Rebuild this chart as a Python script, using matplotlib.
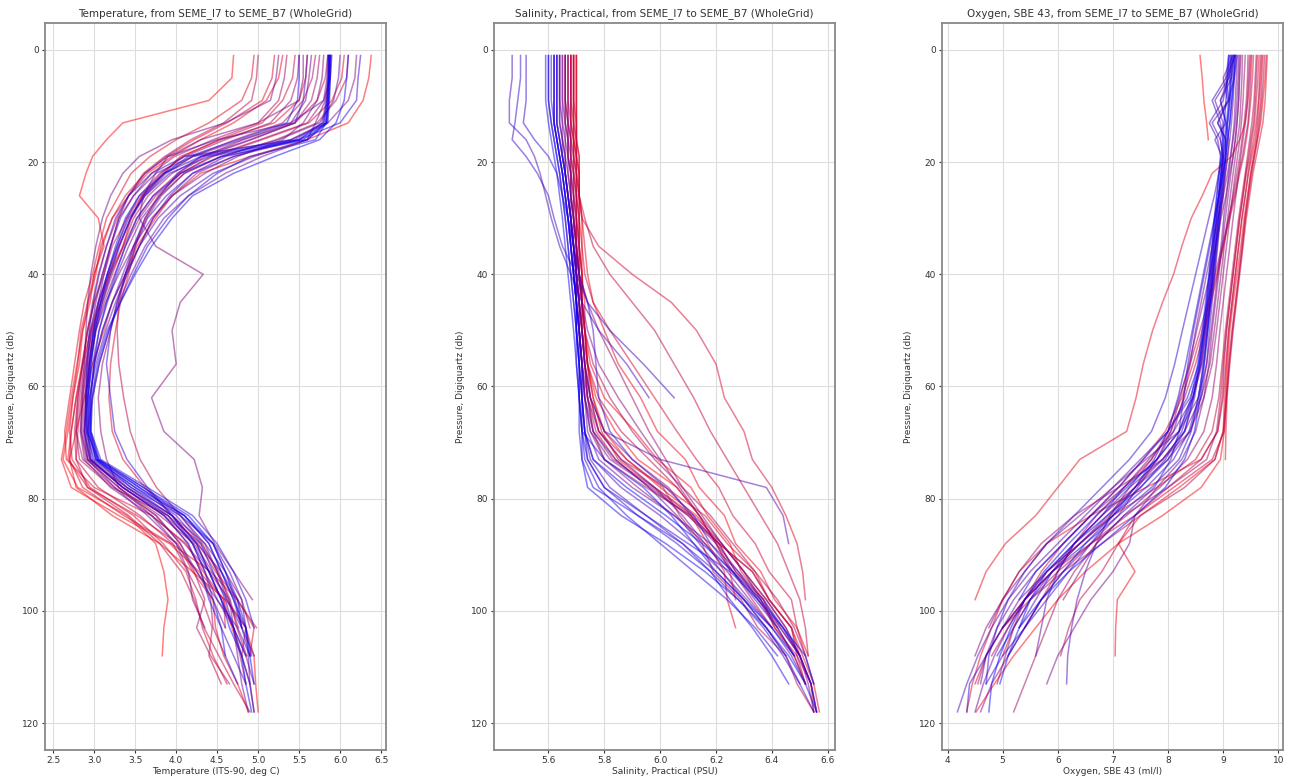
import matplotlib
matplotlib.use("Agg")
import matplotlib.pyplot as plt

# Pressure levels (db) shared by all casts; a cast with fewer values stops shallower
PRESSURE_LEVELS = [1, 5, 9, 13, 16, 19, 22, 26, 30, 35, 40, 45, 50, 56, 62, 68,
                   73, 78, 83, 88, 93, 98, 103, 108, 113, 118]

# Temperature (ITS-90, deg C), casts ordered from SEME_I7 to SEME_B7
TEMP_PROFILES = [
    [4.70, 4.68, 4.40, 3.35, 3.15, 2.98, 2.90, 2.82, 3.05, 3.12, 3.00, 2.95, 2.86, 2.82, 2.74, 2.68, 2.62, 2.80, 3.40, 3.75, 3.85, 3.90, 3.85, 3.83],
    [6.38, 6.35, 6.28, 6.10, 5.60, 4.90, 4.30, 3.95, 3.75, 3.52, 3.38, 3.22, 3.12, 2.98, 2.88, 2.78, 2.70, 2.78, 3.22, 3.80, 4.20, 4.60, 4.85, 4.95, 4.97, 5.00],
    [5.30, 5.25, 5.10, 4.70, 4.30, 3.95, 3.65, 3.42, 3.22, 3.08, 3.02, 2.93, 2.86, 2.79, 2.72, 2.66, 2.60, 2.72, 3.30, 3.92, 4.28, 4.58, 4.68, 4.80],
    [5.60, 5.58, 5.50, 5.20, 4.55, 4.05, 3.85, 3.58, 3.45, 3.35, 3.18, 3.08, 2.96, 2.86, 2.78, 2.72, 2.68, 2.92, 3.52, 4.02, 4.20, 4.45, 4.48, 4.58, 4.75, 4.88],
    [4.95, 4.92, 4.80, 4.40, 4.00, 3.68, 3.45, 3.30, 3.15, 3.06, 2.98, 2.88, 2.82, 2.76, 2.70, 2.64, 2.66, 3.00, 3.70, 4.12, 4.33, 4.58, 4.60],
    [6.05, 6.02, 5.90, 5.62, 5.05, 4.45, 4.05, 3.78, 3.62, 3.50, 3.42, 3.32, 3.26, 3.20, 3.18, 3.22, 3.35, 3.62, 3.95, 4.27, 4.48, 4.75, 4.95, 4.90],
    [5.20, 5.17, 5.05, 4.62, 4.22, 3.88, 3.62, 3.38, 3.22, 3.10, 3.00, 2.92, 2.84, 2.80, 2.74, 2.70, 2.73, 2.95, 3.48, 3.84, 4.12, 4.24, 4.32, 4.45, 4.62],
    [5.45, 5.42, 5.30, 5.05, 4.52, 4.08, 3.82, 3.58, 3.40, 3.22, 3.12, 3.00, 2.92, 2.85, 2.78, 2.72, 2.70, 2.86, 3.36, 3.94, 4.42, 4.74, 4.98],
    [5.85, 5.82, 5.72, 5.45, 4.92, 4.35, 4.02, 3.72, 3.52, 3.36, 3.20, 3.08, 2.98, 2.90, 2.84, 2.80, 2.78, 2.92, 3.42, 3.80, 4.06, 4.22, 4.34, 4.52, 4.70, 4.90],
    [5.00, 4.98, 4.92, 4.58, 4.18, 3.86, 3.60, 3.42, 3.28, 3.15, 3.05, 2.98, 2.92, 2.86, 2.80, 2.76, 2.78, 3.05, 3.56, 3.96, 4.14, 4.32, 4.44, 4.40, 4.55],
    [6.10, 6.08, 5.95, 5.72, 5.22, 4.55, 4.10, 3.82, 3.64, 3.48, 3.38, 3.30, 3.28, 3.30, 3.36, 3.44, 3.56, 3.76, 4.05, 4.32, 4.50, 4.66, 4.74, 4.86],
    [5.70, 5.66, 5.55, 5.30, 4.72, 4.20, 3.86, 3.60, 3.45, 3.30, 3.18, 3.05, 2.95, 2.88, 2.82, 2.78, 2.82, 3.22, 3.90, 4.30, 4.52, 4.64, 4.76],
    [5.35, 5.32, 5.25, 5.00, 4.45, 3.98, 3.70, 3.48, 3.30, 3.20, 3.10, 3.00, 2.92, 2.86, 2.80, 2.78, 2.86, 3.25, 3.76, 4.05, 4.22, 4.35, 4.25, 4.42, 4.65],
    [5.75, 5.72, 5.65, 5.45, 4.82, 4.32, 3.95, 3.66, 3.48, 3.35, 3.22, 3.10, 3.00, 2.92, 2.86, 2.84, 2.90, 3.30, 3.80, 4.22, 4.44, 4.62, 4.85, 4.80, 4.90, 4.95],
    [5.90, 5.88, 5.80, 5.60, 5.02, 4.42, 4.06, 3.75, 3.55, 3.38, 3.25, 3.12, 3.02, 2.95, 2.90, 2.88, 2.95, 3.35, 3.86, 4.14, 4.30, 4.42, 4.45, 4.60],
    [5.50, 5.48, 5.40, 5.15, 4.60, 4.10, 3.80, 3.55, 3.40, 3.28, 3.16, 3.05, 2.97, 2.90, 2.86, 2.84, 2.92, 3.40, 3.95, 4.35, 4.60, 4.80, 4.90],
    [6.20, 6.18, 6.10, 5.85, 5.40, 4.70, 4.25, 3.95, 3.72, 3.55, 3.40, 3.28, 3.20, 3.10, 3.05, 3.08, 3.15, 3.30, 3.70, 4.10, 4.40, 4.65, 4.70, 4.78, 4.85],
    [5.55, 5.55, 5.50, 5.00, 4.30, 3.90, 3.75, 3.60, 3.55, 3.75, 4.33, 4.05, 3.95, 4.00, 3.70, 3.85, 4.22, 4.32, 4.28, 4.47, 4.70, 4.93],
    [5.80, 5.78, 5.72, 5.55, 5.30, 4.75, 4.35, 3.95, 3.70, 3.48, 3.30, 3.14, 3.02, 2.94, 2.88, 2.86, 2.92, 3.30, 3.75, 4.05, 4.25, 4.50, 4.70, 4.85, 4.95],
    [5.25, 5.22, 5.15, 4.60, 3.95, 3.55, 3.35, 3.20, 3.10, 3.02, 2.96, 2.92, 2.90, 2.88, 2.85, 2.83, 2.88, 3.20, 3.70, 4.00, 4.15, 4.20, 4.35],
    [5.65, 5.62, 5.58, 5.40, 4.80, 4.20, 3.88, 3.62, 3.45, 3.30, 3.18, 3.08, 3.00, 2.94, 2.90, 2.88, 2.95, 3.35, 3.85, 4.25, 4.55, 4.75, 4.80, 4.95],
    [5.88, 5.86, 5.82, 5.70, 5.60, 5.05, 4.60, 4.15, 3.85, 3.62, 3.45, 3.30, 3.18, 3.06, 2.98, 2.92, 2.96, 3.40, 3.95, 4.25, 4.40, 4.55, 4.70, 4.75, 4.80, 4.88],
    [6.00, 5.98, 5.92, 5.75, 5.25, 4.55, 4.10, 3.80, 3.58, 3.42, 3.28, 3.16, 3.06, 2.98, 2.92, 2.88, 2.92, 3.25, 3.65, 4.00, 4.25, 4.45, 4.60],
    [5.85, 5.84, 5.80, 5.40, 4.50, 3.90, 3.62, 3.42, 3.30, 3.20, 3.12, 3.05, 2.99, 2.94, 2.90, 2.88, 2.94, 3.35, 3.90, 4.20, 4.35, 4.50, 4.75, 4.90],
    [5.86, 5.85, 5.83, 5.78, 5.50, 4.60, 4.20, 3.92, 3.72, 3.55, 3.40, 3.26, 3.14, 3.02, 2.94, 2.92, 2.98, 3.45, 4.05, 4.45, 4.65, 4.80, 4.85, 4.88, 4.90],
    [5.87, 5.86, 5.84, 5.80, 5.40, 4.20, 3.75, 3.48, 3.32, 3.20, 3.10, 3.02, 2.96, 2.92, 2.90, 2.91, 3.05, 3.60, 4.10, 4.40, 4.55, 4.70, 4.80],
    [5.60, 5.58, 5.55, 5.45, 4.90, 4.30, 4.02, 3.80, 3.62, 3.48, 3.35, 3.22, 3.10, 3.00, 2.95, 2.94, 3.02, 3.40, 3.90, 4.20, 4.35, 4.45, 4.55, 4.70, 4.85],
    [5.88, 5.87, 5.85, 5.82, 5.60, 4.95, 4.45, 4.05, 3.78, 3.55, 3.38, 3.22, 3.10, 3.00, 2.95, 2.95, 3.05, 3.55, 4.05, 4.35, 4.50, 4.62, 4.80, 4.90],
    [6.25, 6.22, 6.20, 6.00, 5.50, 4.70, 4.20, 3.88, 3.65, 3.50, 3.38, 3.28, 3.20, 3.15, 3.20, 3.25, 3.40, 3.65, 3.95, 4.20, 4.40, 4.55, 4.70, 4.80, 4.90, 4.95],
    [5.86, 5.86, 5.84, 5.80, 5.45, 4.10, 3.70, 3.42, 3.26, 3.15, 3.06, 2.99, 2.94, 2.91, 2.90, 2.90, 3.00, 3.50, 4.10, 4.45, 4.60, 4.75, 4.85, 4.92],
    [5.89, 5.88, 5.86, 5.83, 5.70, 4.90, 4.50, 4.15, 3.90, 3.65, 3.48, 3.32, 3.18, 3.06, 2.98, 2.96, 3.08, 3.65, 4.20, 4.50, 4.70, 4.85, 4.95],
    [5.50, 5.50, 5.48, 5.35, 4.75, 4.15, 3.85, 3.60, 3.44, 3.31, 3.20, 3.10, 3.02, 2.96, 2.92, 2.90, 2.96, 3.35, 3.85, 4.15, 4.30, 4.40, 4.55, 4.60, 4.75],
    [5.87, 5.87, 5.86, 5.84, 5.55, 4.40, 3.92, 3.62, 3.42, 3.28, 3.16, 3.06, 2.99, 2.94, 2.92, 2.92, 3.02, 3.50, 4.00, 4.30, 4.45, 4.60, 4.70, 4.85],
    [6.10, 6.08, 6.05, 5.95, 5.75, 5.20, 4.70, 4.20, 3.95, 3.70, 3.50, 3.32, 3.16, 3.04, 2.97, 2.95, 3.04, 3.45, 3.95, 4.25, 4.40, 4.55, 4.65, 4.80, 4.85, 4.92],
    [5.88, 5.88, 5.87, 5.85, 5.60, 4.55, 4.05, 3.72, 3.52, 3.38, 3.26, 3.15, 3.06, 3.00, 2.96, 2.96, 3.06, 3.60, 4.15, 4.45, 4.60, 4.72, 4.80],
    [5.86, 5.86, 5.85, 5.83, 5.50, 4.30, 3.85, 3.55, 3.38, 3.26, 3.16, 3.08, 3.01, 2.96, 2.93, 2.93, 3.03, 3.55, 4.10, 4.40, 4.55, 4.70, 4.85, 4.90, 4.95],
]

# Salinity, Practical (PSU)
SAL_PROFILES = [
    [5.69, 5.69, 5.69, 5.69, 5.69, 5.70, 5.70, 5.70, 5.71, 5.71, 5.72, 5.72, 5.73, 5.74, 5.77, 5.84, 5.92, 6.06, 6.14, 6.20, 6.25, 6.27],
    [5.70, 5.70, 5.70, 5.70, 5.70, 5.70, 5.71, 5.71, 5.71, 5.72, 5.72, 5.73, 5.73, 5.74, 5.76, 5.80, 5.88, 6.00, 6.13, 6.21, 6.33, 6.39, 6.47, 6.50, 6.54, 6.55],
    [5.68, 5.68, 5.68, 5.68, 5.69, 5.69, 5.69, 5.70, 5.70, 5.70, 5.71, 5.72, 5.73, 5.75, 5.80, 5.91, 5.99, 6.11, 6.17, 6.25, 6.29, 6.37, 6.41, 6.48, 6.52],
    [5.70, 5.70, 5.70, 5.70, 5.70, 5.71, 5.71, 5.71, 5.72, 5.73, 5.74, 5.76, 5.80, 5.85, 5.93, 5.99, 6.09, 6.14, 6.23, 6.27, 6.36, 6.41, 6.49, 6.53],
    [5.69, 5.69, 5.69, 5.69, 5.69, 5.70, 5.70, 5.71, 5.71, 5.71, 5.72, 5.72, 5.73, 5.74, 5.76, 5.79, 5.85, 5.98, 6.11, 6.17, 6.23, 6.24, 6.27],
    [5.68, 5.68, 5.68, 5.69, 5.69, 5.69, 5.70, 5.70, 5.70, 5.71, 5.71, 5.72, 5.72, 5.73, 5.75, 5.78, 5.86, 6.02, 6.16, 6.24, 6.34, 6.39, 6.47, 6.51, 6.55, 6.57],
    [5.69, 5.69, 5.69, 5.70, 5.70, 5.70, 5.71, 5.71, 5.72, 5.78, 5.90, 6.04, 6.13, 6.20, 6.23, 6.30, 6.33, 6.40, 6.45, 6.49, 6.51, 6.52],
    [5.70, 5.70, 5.70, 5.70, 5.70, 5.71, 5.71, 5.71, 5.72, 5.72, 5.73, 5.76, 5.82, 5.90, 5.98, 6.06, 6.13, 6.21, 6.26, 6.34, 6.39, 6.47, 6.49, 6.52],
    [5.67, 5.67, 5.67, 5.68, 5.68, 5.68, 5.69, 5.69, 5.70, 5.70, 5.71, 5.71, 5.72, 5.73, 5.74, 5.77, 5.84, 5.96, 6.10, 6.21, 6.27, 6.36, 6.41, 6.49, 6.52],
    [5.68, 5.68, 5.68, 5.68, 5.69, 5.69, 5.70, 5.71, 5.73, 5.76, 5.82, 5.90, 5.98, 6.05, 6.12, 6.18, 6.24, 6.30, 6.36, 6.42, 6.46, 6.50, 6.52, 6.53],
    [5.69, 5.69, 5.69, 5.69, 5.70, 5.70, 5.70, 5.70, 5.71, 5.71, 5.72, 5.72, 5.73, 5.74, 5.75, 5.78, 5.88, 6.01, 6.07, 6.15, 6.19, 6.29, 6.35, 6.45, 6.49, 6.55],
    [5.66, 5.66, 5.66, 5.67, 5.67, 5.68, 5.68, 5.69, 5.69, 5.70, 5.70, 5.71, 5.72, 5.74, 5.78, 5.86, 5.96, 6.06, 6.14, 6.20, 6.26, 6.33, 6.40],
    [5.67, 5.67, 5.67, 5.67, 5.68, 5.68, 5.69, 5.69, 5.70, 5.70, 5.71, 5.72, 5.73, 5.76, 5.82, 5.90, 5.98, 6.08, 6.18, 6.26, 6.34, 6.42, 6.48, 6.52, 6.55],
    [5.68, 5.68, 5.68, 5.68, 5.68, 5.69, 5.69, 5.70, 5.70, 5.71, 5.71, 5.72, 5.72, 5.73, 5.74, 5.76, 5.80, 5.95, 6.11, 6.21, 6.33, 6.39, 6.47, 6.49, 6.54, 6.56],
    [5.66, 5.66, 5.66, 5.67, 5.67, 5.67, 5.68, 5.68, 5.69, 5.70, 5.71, 5.74, 5.78, 5.84, 5.90, 5.96, 6.02, 6.08, 6.15, 6.22, 6.30, 6.38, 6.45, 6.50],
    [5.67, 5.67, 5.67, 5.67, 5.68, 5.68, 5.68, 5.69, 5.69, 5.70, 5.70, 5.71, 5.72, 5.73, 5.74, 5.76, 5.83, 5.98, 6.12, 6.22, 6.30, 6.36, 6.42],
    [5.66, 5.66, 5.66, 5.66, 5.67, 5.67, 5.68, 5.68, 5.69, 5.70, 5.70, 5.71, 5.72, 5.73, 5.75, 5.80, 5.90, 6.03, 6.11, 6.21, 6.27, 6.37, 6.43, 6.50, 6.54],
    [5.65, 5.65, 5.65, 5.66, 5.66, 5.67, 5.67, 5.68, 5.69, 5.70, 5.71, 5.72, 5.74, 5.78, 5.85, 5.93, 6.00, 6.07, 6.14, 6.22, 6.30, 6.38, 6.45, 6.50, 6.53, 6.55],
    [5.66, 5.66, 5.66, 5.66, 5.67, 5.67, 5.68, 5.68, 5.69, 5.69, 5.70, 5.71, 5.71, 5.72, 5.73, 5.75, 5.80, 5.92, 6.05, 6.16, 6.26, 6.35, 6.43, 6.50],
    [5.64, 5.64, 5.64, 5.65, 5.65, 5.66, 5.66, 5.67, 5.68, 5.69, 5.70, 5.70, 5.71, 5.72, 5.73, 5.75, 5.82, 5.97, 6.10, 6.20, 6.28, 6.35, 6.42, 6.48, 6.52],
    [5.65, 5.65, 5.65, 5.65, 5.66, 5.66, 5.67, 5.68, 5.68, 5.69, 5.70, 5.71, 5.71, 5.72, 5.74, 5.78, 5.86, 5.98, 6.08, 6.16, 6.24, 6.32, 6.40],
    [5.64, 5.64, 5.64, 5.64, 5.65, 5.66, 5.66, 5.67, 5.68, 5.69, 5.70, 5.70, 5.71, 5.72, 5.73, 5.74, 5.78, 5.90, 6.05, 6.18, 6.28, 6.37, 6.44, 6.50, 6.54, 6.56],
    [5.63, 5.63, 5.63, 5.63, 5.64, 5.65, 5.66, 5.67, 5.68, 5.68, 5.69, 5.70, 5.71, 5.72, 5.73, 5.76, 5.84, 5.96, 6.06, 6.14, 6.22, 6.30, 6.38, 6.45],
    [5.64, 5.64, 5.64, 5.64, 5.65, 5.65, 5.66, 5.67, 5.68, 5.69, 5.70, 5.71, 5.72, 5.73, 5.75, 5.80, 6.00, 6.38, 6.44, 6.46],
    [5.62, 5.62, 5.62, 5.62, 5.63, 5.64, 5.65, 5.66, 5.67, 5.68, 5.69, 5.70, 5.71, 5.71, 5.72, 5.73, 5.76, 5.86, 6.00, 6.12, 6.22, 6.31, 6.40, 6.47, 6.52],
    [5.63, 5.63, 5.63, 5.63, 5.64, 5.65, 5.66, 5.67, 5.68, 5.69, 5.70, 5.70, 5.71, 5.72, 5.72, 5.73, 5.75, 5.82, 5.95, 6.08, 6.20, 6.30, 6.38, 6.45, 6.50, 6.55],
    [5.47, 5.47, 5.46, 5.46, 5.52, 5.55, 5.57, 5.59, 5.61, 5.64, 5.68, 5.72, 5.78, 5.88, 5.96],
    [5.50, 5.50, 5.49, 5.48, 5.47, 5.52, 5.56, 5.60, 5.62, 5.65, 5.70, 5.74, 5.82, 5.94, 6.05],
    [5.52, 5.52, 5.52, 5.51, 5.55, 5.60, 5.63, 5.65, 5.67, 5.69, 5.71, 5.74, 5.76, 5.77, 5.78, 5.82, 5.90, 6.02, 6.12, 6.18, 6.26, 6.34, 6.42, 6.48],
    [5.60, 5.60, 5.60, 5.61, 5.62, 5.63, 5.64, 5.65, 5.66, 5.67, 5.68, 5.69, 5.70, 5.71, 5.72, 5.72, 5.74, 5.80, 5.92, 6.06, 6.18, 6.28, 6.37, 6.44, 6.50],
    [5.61, 5.61, 5.61, 5.62, 5.63, 5.64, 5.65, 5.66, 5.67, 5.68, 5.69, 5.70, 5.70, 5.71, 5.71, 5.72, 5.73, 5.78, 5.88, 6.00, 6.12, 6.24, 6.34, 6.42],
    [5.62, 5.62, 5.62, 5.62, 5.63, 5.64, 5.65, 5.66, 5.67, 5.68, 5.69, 5.70, 5.71, 5.72, 5.72, 5.73, 5.74, 5.80, 5.95, 6.10, 6.25, 6.35, 6.44, 6.50, 6.54, 6.56],
    [5.60, 5.60, 5.60, 5.61, 5.62, 5.63, 5.64, 5.65, 5.66, 5.67, 5.68, 5.69, 5.70, 5.70, 5.71, 5.71, 5.72, 5.76, 5.92, 6.08, 6.18, 6.25, 6.33, 6.40, 6.46],
    [5.63, 5.63, 5.63, 5.63, 5.64, 5.65, 5.66, 5.67, 5.68, 5.69, 5.69, 5.70, 5.70, 5.71, 5.71, 5.72, 5.72, 5.74, 5.86, 6.02, 6.16, 6.28, 6.38, 6.46, 6.52, 6.56],
    [5.59, 5.59, 5.59, 5.60, 5.61, 5.62, 5.63, 5.64, 5.65, 5.66, 5.67, 5.68, 5.69, 5.70, 5.71, 5.72, 5.80, 5.94, 6.04, 6.12, 6.20, 6.30, 6.40, 6.48],
    [5.62, 5.62, 5.62, 5.62, 5.63, 5.64, 5.65, 5.66, 5.67, 5.68, 5.69, 5.70, 5.70, 5.71, 5.72, 5.73, 5.76, 5.88, 6.02, 6.15, 6.26, 6.36, 6.44, 6.52, 6.55],
]

# Oxygen, SBE 43 (ml/l)
OXY_PROFILES = [
    [8.58, 8.62, 8.65, 8.70, 8.73],
    [9.78, 9.76, 9.72, 9.68, 9.62, 9.56, 9.50, 9.44, 9.38, 9.32, 9.25, 9.18, 9.12, 9.08, 9.05, 9.02, 8.95, 8.60, 7.90, 7.10, 6.50, 6.00, 5.60, 5.20, 4.85, 4.52],
    [9.70, 9.68, 9.65, 9.62, 9.58, 9.52, 9.46, 9.40, 9.34, 9.28, 9.22, 9.16, 9.10, 9.06, 9.03, 9.00, 8.85, 8.20, 7.50, 7.10, 7.40, 7.08, 7.05, 7.04],
    [9.50, 9.48, 9.45, 9.40, 9.30, 9.15, 8.80, 8.62, 8.42, 8.25, 8.10, 7.90, 7.72, 7.55, 7.42, 7.25, 6.40, 6.00, 5.60, 5.05, 4.70, 4.50],
    [9.65, 9.63, 9.60, 9.57, 9.52, 9.48, 9.42, 9.36, 9.30, 9.24, 9.18, 9.12, 9.06, 9.02, 8.98, 8.90, 8.60, 7.60, 6.60, 5.80, 5.30, 5.00, 4.80, 4.60, 4.45, 4.35],
    [9.80, 9.78, 9.76, 9.72, 9.66, 9.60, 9.54, 9.48, 9.42, 9.36, 9.30, 9.24, 9.18, 9.12, 9.07, 9.05, 9.04],
    [9.55, 9.53, 9.50, 9.46, 9.42, 9.37, 9.30, 9.22, 9.12, 9.00, 8.88, 8.75, 8.62, 8.45, 8.25, 7.95, 7.55, 7.10, 6.60, 6.10, 5.70, 5.40, 5.20, 5.00],
    [9.72, 9.70, 9.68, 9.64, 9.60, 9.55, 9.50, 9.45, 9.40, 9.34, 9.28, 9.22, 9.16, 9.10, 9.06, 9.02, 8.80, 8.10, 7.40, 6.60, 5.90, 5.40, 5.00],
    [9.60, 9.58, 9.56, 9.52, 9.48, 9.44, 9.40, 9.34, 9.28, 9.22, 9.16, 9.10, 9.04, 8.98, 8.92, 8.80, 8.50, 7.80, 7.00, 6.40, 5.90, 5.40, 5.00, 4.70, 4.50],
    [9.68, 9.66, 9.64, 9.60, 9.55, 9.50, 9.45, 9.40, 9.34, 9.28, 9.22, 9.16, 9.10, 9.05, 9.00, 8.90, 8.60, 8.00, 7.40, 7.10, 6.80, 6.40, 6.20, 6.05],
    [9.45, 9.44, 9.42, 9.38, 9.34, 9.30, 9.25, 9.18, 9.10, 9.00, 8.90, 8.78, 8.66, 8.50, 8.30, 8.05, 7.70, 7.20, 6.70, 6.30, 6.00, 5.70, 5.40],
    [9.75, 9.73, 9.70, 9.66, 9.62, 9.57, 9.52, 9.46, 9.40, 9.35, 9.29, 9.23, 9.17, 9.11, 9.06, 9.00, 8.85, 8.30, 7.50, 6.80, 6.10, 5.50, 5.00, 4.70, 4.55],
    [9.52, 9.50, 9.48, 9.45, 9.40, 9.35, 9.28, 9.20, 9.10, 8.98, 8.85, 8.72, 8.58, 8.40, 8.20, 8.00, 7.70, 7.30, 6.95, 6.40, 5.80, 5.40, 5.10, 4.80],
    [9.62, 9.60, 9.58, 9.55, 9.50, 9.46, 9.41, 9.36, 9.30, 9.24, 9.18, 9.12, 9.06, 9.00, 8.95, 8.88, 8.70, 8.00, 7.20, 6.70, 6.30, 6.00, 5.80, 5.60, 5.40, 5.20],
    [9.40, 9.38, 9.36, 9.33, 9.30, 9.26, 9.22, 9.17, 9.12, 9.06, 9.00, 8.94, 8.88, 8.80, 8.65, 8.40, 7.90, 7.10, 6.30, 5.70, 5.30, 5.00, 4.75],
    [9.48, 9.46, 9.44, 9.40, 9.36, 9.32, 9.28, 9.23, 9.18, 9.12, 9.06, 9.00, 8.94, 8.88, 8.80, 8.65, 8.35, 7.85, 7.25, 6.60, 6.00, 5.50, 5.20, 5.05, 4.90],
    [9.35, 9.34, 9.32, 9.30, 9.26, 9.22, 9.18, 9.13, 9.08, 9.02, 8.96, 8.90, 8.84, 8.76, 8.60, 8.30, 7.90, 7.40, 6.95, 6.70, 6.40, 6.10],
    [9.30, 9.29, 9.28, 9.25, 9.22, 9.18, 9.12, 9.05, 8.96, 8.86, 8.76, 8.64, 8.52, 8.38, 8.22, 8.05, 7.80, 7.45, 7.10, 6.60, 6.10, 5.70, 5.40, 5.10, 4.80, 4.60],
    [9.28, 9.27, 9.25, 9.22, 9.18, 9.14, 9.10, 9.06, 9.01, 8.96, 8.90, 8.84, 8.78, 8.70, 8.55, 8.20, 7.60, 7.00, 6.40, 5.80, 5.40, 5.00, 4.70, 4.50],
    [9.32, 9.30, 9.28, 9.25, 9.22, 9.18, 9.14, 9.09, 9.04, 8.98, 8.92, 8.86, 8.80, 8.74, 8.65, 8.50, 8.25, 7.80, 7.40, 7.30, 7.00, 6.60, 6.30, 6.00, 5.80],
    [9.25, 9.24, 9.22, 9.20, 9.17, 9.13, 9.08, 9.00, 8.90, 8.80, 8.70, 8.60, 8.50, 8.40, 8.28, 8.10, 7.80, 7.40, 6.90, 6.40, 5.80, 5.30, 5.00],
    [9.22, 9.20, 9.18, 9.15, 9.12, 9.08, 9.04, 8.99, 8.94, 8.88, 8.82, 8.76, 8.70, 8.62, 8.45, 8.10, 7.65, 7.20, 6.80, 6.30, 5.80, 5.40, 5.10, 4.85, 4.65, 4.50],
    [9.20, 9.10, 8.95, 9.05, 9.10, 9.08, 9.04, 9.00, 8.95, 8.90, 8.85, 8.80, 8.75, 8.70, 8.60, 8.40, 8.00, 7.40, 6.80, 6.30, 6.00, 5.80, 5.70, 5.60],
    [9.18, 9.00, 9.08, 8.90, 9.05, 9.05, 9.02, 8.97, 8.92, 8.86, 8.80, 8.74, 8.68, 8.60, 8.45, 8.20, 7.80, 7.20, 6.60, 6.10, 5.60, 5.20, 4.90, 4.70, 4.60],
    [9.15, 9.10, 8.85, 9.00, 8.95, 9.00, 8.98, 8.94, 8.90, 8.85, 8.80, 8.74, 8.68, 8.60, 8.40, 8.00, 7.50, 7.00, 6.50, 6.00, 5.50, 5.10, 4.80, 4.55, 4.35, 4.18],
    [9.22, 9.05, 9.10, 8.80, 8.95, 9.00, 8.98, 8.92, 8.85, 8.76, 8.66, 8.56, 8.46, 8.36, 8.28, 8.20, 8.05, 7.75, 7.20, 6.70, 6.50, 6.35, 6.25, 6.18, 6.16],
    [9.12, 9.08, 9.00, 8.75, 8.90, 8.95, 8.92, 8.88, 8.84, 8.80, 8.75, 8.70, 8.65, 8.58, 8.48, 8.30, 7.90, 7.30, 6.80, 6.30, 5.90, 5.60, 5.30],
    [9.20, 9.15, 8.95, 9.05, 8.85, 8.98, 8.96, 8.92, 8.88, 8.83, 8.78, 8.72, 8.66, 8.58, 8.45, 8.25, 7.95, 7.50, 7.00, 6.60, 6.20, 5.80, 5.40, 5.00, 4.70],
    [9.10, 9.05, 8.80, 8.95, 9.00, 8.98, 8.92, 8.84, 8.74, 8.62, 8.50, 8.38, 8.26, 8.12, 7.95, 7.70, 7.30, 6.80, 6.30, 5.80, 5.40, 5.10, 4.90, 4.75, 4.70],
    [9.25, 9.20, 9.10, 8.90, 9.05, 9.04, 9.02, 8.98, 8.94, 8.89, 8.84, 8.78, 8.72, 8.65, 8.55, 8.38, 8.10, 7.60, 7.00, 6.40, 5.90, 5.50, 5.20, 4.90],
    [9.18, 9.15, 9.12, 9.08, 9.05, 9.02, 8.99, 8.95, 8.91, 8.86, 8.81, 8.76, 8.71, 8.64, 8.55, 8.42, 8.20, 7.70, 7.10, 6.50, 5.90, 5.40, 5.00, 4.70, 4.40, 4.35],
    [9.14, 9.12, 9.10, 9.06, 9.02, 8.99, 8.96, 8.92, 8.88, 8.83, 8.78, 8.72, 8.66, 8.56, 8.35, 8.00, 7.55, 7.10, 6.60, 6.10, 5.60, 5.30],
    [9.20, 9.18, 9.15, 9.12, 9.08, 9.05, 9.00, 8.92, 8.84, 8.74, 8.64, 8.54, 8.44, 8.32, 8.18, 8.00, 7.75, 7.40, 7.00, 6.50, 6.10, 5.70, 5.40, 5.10],
    [9.16, 9.14, 9.12, 9.08, 9.04, 9.00, 8.96, 8.92, 8.87, 8.82, 8.76, 8.70, 8.64, 8.56, 8.46, 8.30, 8.00, 7.50, 6.90, 6.30, 5.80, 5.50, 5.30, 5.10, 4.95],
    [9.22, 9.20, 9.16, 9.12, 9.08, 9.04, 9.00, 8.96, 8.92, 8.87, 8.82, 8.77, 8.72, 8.66, 8.58, 8.48, 8.30, 7.95, 7.40, 6.80, 6.20, 5.70, 5.30],
    [9.10, 9.08, 9.05, 9.02, 8.99, 8.96, 8.93, 8.89, 8.85, 8.80, 8.74, 8.68, 8.62, 8.54, 8.42, 8.20, 7.80, 7.25, 6.70, 6.20, 5.75, 5.40, 5.15, 4.95, 4.80, 4.75],
]

PANELS = [
    ("Temperature, from SEME_I7 to SEME_B7 (WholeGrid)", "Temperature (ITS-90, deg C)",
     TEMP_PROFILES, (2.40, 6.56), [2.5, 3.0, 3.5, 4.0, 4.5, 5.0, 5.5, 6.0, 6.5], "{:.1f}"),
    ("Salinity, Practical, from SEME_I7 to SEME_B7 (WholeGrid)", "Salinity, Practical (PSU)",
     SAL_PROFILES, (5.405, 6.626), [5.6, 5.8, 6.0, 6.2, 6.4, 6.6], "{:.1f}"),
    ("Oxygen, SBE 43, from SEME_I7 to SEME_B7 (WholeGrid)", "Oxygen, SBE 43 (ml/l)",
     OXY_PROFILES, (3.90, 10.085), [4, 5, 6, 7, 8, 9, 10], "{:d}"),
]
Y_TICKS = [0, 20, 40, 60, 80, 100, 120]

W, H = 1291, 778
fig = plt.figure(figsize=(W / 100, H / 100), dpi=100, facecolor="white")
lefts = [45, 494, 942]
ax_w, ax_top, ax_bot = 341, 23, 750

for left, (title, xlabel, profiles, xlim, xticks, fmt) in zip(lefts, PANELS):
    ax = fig.add_axes([left / W, 1 - ax_bot / H, ax_w / W, (ax_bot - ax_top) / H])
    n = len(profiles)
    for i, vals in enumerate(profiles):
        t = i / (n - 1)
        ax.plot(vals, PRESSURE_LEVELS[:len(vals)], color=(1 - t, 0.0, t),
                alpha=0.5, lw=1.1, solid_joinstyle="round")
    ax.set_xlim(*xlim)
    ax.set_ylim(124.8, -4.8)
    ax.set_xticks(xticks)
    ax.set_xticklabels([fmt.format(v) for v in xticks])
    ax.set_yticks(Y_TICKS)
    ax.grid(True, color="#dddddd", lw=0.8)
    ax.set_axisbelow(True)
    for sp in ax.spines.values():
        sp.set_color("#888888")
        sp.set_linewidth(1.3)
    ax.tick_params(labelsize=6.5, colors="#333333", length=2.5, width=0.8, pad=2)
    ax.set_title(title, fontsize=7.5, color="#333333", pad=5)
    ax.set_xlabel(xlabel, fontsize=6.5, color="#333333", labelpad=1)
    ax.set_ylabel("Pressure, Digiquartz (db)", fontsize=6.5, color="#333333", labelpad=4)

fig.savefig("out.png", dpi=100, facecolor="white")
